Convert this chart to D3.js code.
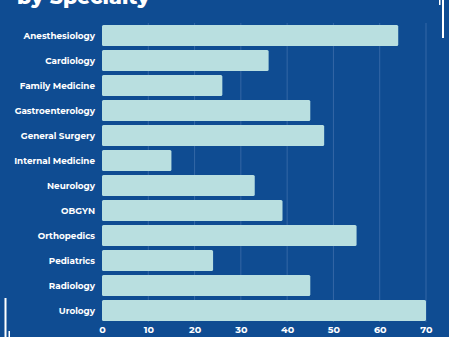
<!DOCTYPE html>
<html><head><meta charset="utf-8">
<script src="https://cdn.jsdelivr.net/npm/d3@7"></script>
<style>html,body{margin:0;padding:0;background:#0f4c92;overflow:hidden}</style>
</head><body>
<script>
const categories = ["Anesthesiology","Cardiology","Family Medicine","Gastroenterology","General Surgery","Internal Medicine","Neurology","OBGYN","Orthopedics","Pediatrics","Radiology","Urology"];
const values = [64,36,26,45,48,15,33,39,55,24,45,70];
const ticks = [0,10,20,30,40,50,60,70];
const title = "by Specialty";

const W=449,H=337;
const svg=d3.select("body").append("svg").attr("width",W).attr("height",H);
svg.append("rect").attr("width",W).attr("height",H).attr("fill","#0f4c92");

const x=d3.scaleLinear().domain([0,70]).range([102,426]);
const y=d3.scaleBand().domain(categories).range([23,323]).paddingInner(0.16).paddingOuter(0.08);

const font="Montserrat, 'Open Sans', sans-serif";
svg.append("g").selectAll("line").data(ticks.slice(1)).join("line")
 .attr("x1",d=>x(d)).attr("x2",d=>x(d)).attr("y1",23).attr("y2",322)
 .attr("stroke","#3467a6").attr("stroke-width",1);

svg.append("g").selectAll("rect").data(values).join("rect")
 .attr("x",x(0)).attr("y",(d,i)=>y(categories[i]))
 .attr("width",d=>x(d)-x(0)).attr("height",y.bandwidth())
 .attr("rx",1.5).attr("fill","#b9dfe0");

const yAxis=svg.append("g").attr("transform","translate(95,0)")
 .call(d3.axisLeft(y).tickSize(0).tickPadding(0));
yAxis.select(".domain").remove();
yAxis.selectAll("text").attr("fill","#fff").attr("font-family",font)
 .attr("font-weight",700).attr("font-size","8.8px").attr("dy","0.35em");

const xAxis=svg.append("g").attr("transform","translate(0,326)")
 .call(d3.axisBottom(x).tickValues(ticks).tickSize(0).tickPadding(0));
xAxis.select(".domain").remove();
xAxis.selectAll("text").attr("fill","#fff").attr("font-family",font)
 .attr("font-weight",700).attr("font-size","9.6px").attr("dy","0.71em");

svg.append("text").attr("x",17).attr("y",4).attr("fill","#fff")
 .attr("font-family",font).attr("font-weight",800).attr("font-size","20.5px").text(title);

svg.append("rect").attr("x",442).attr("y",0).attr("width",2).attr("height",38).attr("fill","#fff");
svg.append("rect").attr("x",439).attr("y",0).attr("width",1.5).attr("height",5).attr("fill","#fff");
svg.append("rect").attr("x",4.5).attr("y",298).attr("width",2).attr("height",39).attr("fill","#fff");
svg.append("rect").attr("x",8.5).attr("y",331).attr("width",1.5).attr("height",6).attr("fill","#fff");
</script>
</body></html>
